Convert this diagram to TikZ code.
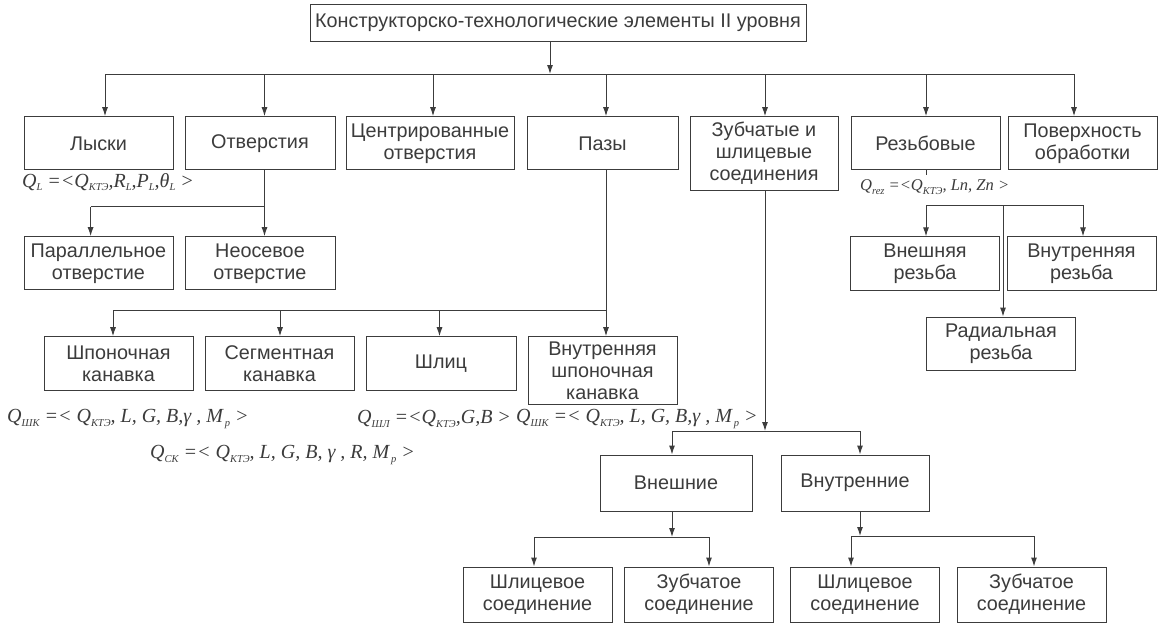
\documentclass[tikz,border=0pt]{standalone}
\usepackage{fontspec}
\setmainfont{Liberation Sans}
\newfontfamily\fml{Liberation Serif}
\usepackage{tikz}
\usetikzlibrary{arrows.meta}
\definecolor{ink}{RGB}{60,60,60}
\newcommand{\sbs}[1]{\raisebox{-3.5pt}{\fontsize{10.5}{10.5}\selectfont #1}}

\begin{document}
\begin{tikzpicture}[x=1pt,y=-1pt,
    box/.style={draw=ink,line width=1pt,text=ink,align=center,inner sep=0pt,
      minimum width=149,minimum height=53.3,font=\fontsize{19.8}{22}\selectfont},
    fmla/.style={text=ink,inner sep=0pt,anchor=west,font=\fml\itshape\fontsize{20}{22}\selectfont},
    link/.style={draw=ink,line width=1pt},
    arr/.style={link,-{Latex[length=9pt,width=6pt]}}]
    \fill[white] (0,0) rectangle (1160,630);
    \useasboundingbox (0,0) rectangle (1160,630);

    % top
    \node[box,minimum width=496,minimum height=37] (top) at (558,22.5) {Конструкторско-технологические элементы II уровня};

    % first level
    \node[box] (lys) at (98.5,143.3) {Лыски};
    \node[box,minimum width=150] (otv) at (260,143.3) {Отверстия};
    \node[box,minimum width=168] (cen) at (430,143.3) {Центрированные\\отверстия};
    \node[box,minimum width=151] (paz) at (602.5,143.3) {Пазы};
    \node[box,minimum width=148,minimum height=74] (zub) at (764,153.7) {Зубчатые и\\шлицевые\\соединения};
    \node[box] (rez) at (925.5,143.3) {Резьбовые};
    \node[box] (pov) at (1082.5,143.3) {Поверхность\\обработки};

    % holes
    \node[box] (par) at (98.5,263.3) {Параллельное\\отверстие};
    \node[box,minimum width=150] (neo) at (260,263.3) {Неосевое\\отверстие};

    % slots
    \node[box,minimum height=54] (shp) at (118.5,363.7) {Шпоночная\\канавка};
    \node[box,minimum height=54] (seg) at (279.5,363.7) {Сегментная\\канавка};
    \node[box,minimum width=150,minimum height=54] (shl) at (441,363.7) {Шлиц};
    \node[box,minimum height=68.3] (vsh) at (602.5,370.8) {Внутренняя\\шпоночная\\канавка};

    % joints
    \node[box,minimum width=152,minimum height=56] (vnesh) at (676,483) {Внешние};
    \node[box,minimum width=148,minimum height=56] (vnutr) at (855,483) {Внутренние};
    \node[box,minimum height=55] (b1) at (537.5,594.5) {Шлицевое\\соединение};
    \node[box,minimum height=55] (b2) at (699,594.5) {Зубчатое\\соединение};
    \node[box,minimum height=55] (b3) at (865,594.5) {Шлицевое\\соединение};
    \node[box,minimum height=55] (b4) at (1031.5,594.5) {Зубчатое\\соединение};

    % threads
    \node[box] (rvn) at (925,263.5) {Внешняя\\резьба};
    \node[box] (rvt) at (1081.5,263.5) {Внутренняя\\резьба};
    \node[box] (rrad) at (1001,343.7) {Радиальная\\резьба};

    % formulas
    \node[fmla] (fl) at (22,182) {Q\sbs{L} =<Q\sbs{КТЭ},R\sbs{L},P\sbs{L},θ\sbs{L} >};
    \node[fmla,font=\fml\itshape\fontsize{16.5}{18}\selectfont] (fr) at (860,187) {Q\sbs{rez} =<Q\sbs{КТЭ}, Ln, Zn >};
    \node[fmla] (fshk) at (7,419) {Q\sbs{ШК} =< Q\sbs{КТЭ}, L, G, B,γ , M\sbs{\,p} >};
    \node[fmla] (fshl) at (357,419) {Q\sbs{ШЛ} =<Q\sbs{КТЭ},G,B >};
    \node[fmla] (fvsh) at (516,419) {Q\sbs{ШК} =< Q\sbs{КТЭ}, L, G, B,γ , M\sbs{\,p} >};
    \node[fmla] (fsk) at (150,455) {Q\sbs{СК} =< Q\sbs{КТЭ}, L, G, B, γ , R, M\sbs{\,p} >};

    % bus levels
    \coordinate (bus1) at (0,74);
    \coordinate (bus2) at (0,206.7);
    \coordinate (bus3) at (0,310);
    \coordinate (bus4) at (0,431);
    \coordinate (bus5) at (0,537);
    \coordinate (bus6) at (0,536);
    \coordinate (bus7) at (0,205);

    % arrow columns
    \foreach \n/\x in {top/550,lys/105,otv/264.5,cen/433,paz/606,zub/765,rez/926,pov/1074,
        par/90.6,neo/264.5,shp/113,seg/280,shl/439.5,vsh/606,vnesh/672,vnutr/860,
        b1/534,b2/709,b3/851,b4/1034,rvn/926,rvt/1083,rrad/1003}
      \coordinate (a\n) at (\x,0);

    % top -> first level
    \draw[arr] (atop |- top.south) -- (atop |- bus1);
    \draw[link] (alys |- bus1) -- (apov |- bus1);
    \foreach \n in {lys,otv,cen,paz,zub,rez,pov}
      \draw[arr] (a\n |- bus1) -- (a\n |- \n.north);

    % holes
    \draw[link] (aotv |- otv.south) -- (aotv |- bus2) -- (apar |- bus2);
    \foreach \n in {par,neo}
      \draw[arr] (a\n |- bus2) -- (a\n |- \n.north);

    % slots
    \draw[link] (apaz |- paz.south) -- (apaz |- bus3) -- (ashp |- bus3);
    \foreach \n in {shp,seg,shl,vsh}
      \draw[arr] (a\n |- bus3) -- (a\n |- \n.north);

    % joints
    \draw[arr] (azub |- zub.south) -- (azub |- bus4);
    \draw[link] (avnesh |- bus4) -- (avnutr |- bus4);
    \foreach \n in {vnesh,vnutr}
      \draw[arr] (a\n |- bus4) -- (a\n |- \n.north);
    \draw[arr] (avnesh |- vnesh.south) -- (avnesh |- bus5);
    \draw[link] (ab1 |- bus5) -- (ab2 |- bus5);
    \foreach \n in {b1,b2}
      \draw[arr] (a\n |- bus5) -- (a\n |- \n.north);
    \draw[arr] (avnutr |- vnutr.south) -- (avnutr |- bus6);
    \draw[link] (ab3 |- bus6) -- (ab4 |- bus6);
    \foreach \n in {b3,b4}
      \draw[arr] (a\n |- bus6) -- (a\n |- \n.north);

    % threads
    \coordinate (rtick) at (926,175);
    \draw[link] (arez |- rez.south) -- (rtick);
    \draw[link] (arvn |- bus7) -- (arvt |- bus7);
    \foreach \n in {rvn,rvt,rrad}
      \draw[arr] (a\n |- bus7) -- (a\n |- \n.north);
\end{tikzpicture}
\end{document}
